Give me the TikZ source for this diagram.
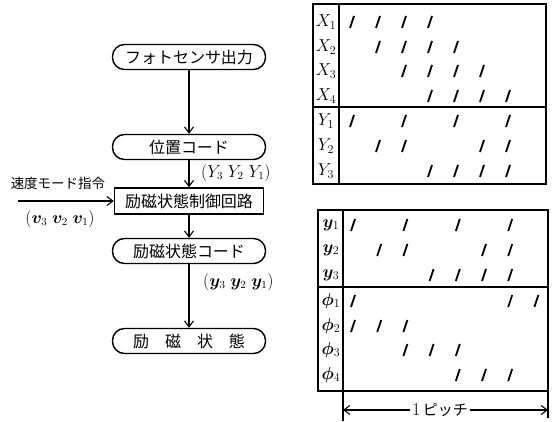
\documentclass[tikz,border=0pt]{standalone}
\usepackage{fontspec}
\usepackage{bm}
\newfontfamily\jp{Noto Sans CJK JP}
\usetikzlibrary{arrows.meta}
\begin{document}
\begin{tikzpicture}[x=1pt,y=-1pt,
  term/.style={draw,line width=1.4pt,rounded corners=12pt,minimum width=153pt,minimum height=25pt,inner sep=0pt,font=\jp\fontsize{16}{18}\selectfont},
  proc/.style={draw,line width=1.4pt,minimum width=149pt,minimum height=26pt,inner sep=0pt,font=\jp\fontsize{16}{18}\selectfont},
  flow/.style={line width=1.1pt,-{Straight Barb[length=6pt,width=9pt]}},
  lbl/.style={font=\fontsize{16}{18}\selectfont,inner sep=0pt},
  jlbl/.style={font=\jp\fontsize{13.5}{15}\selectfont,inner sep=0pt},
  rowlbl/.style={font=\fontsize{17}{19}\selectfont,inner sep=0pt},
  frame/.style={line width=1.4pt},
  sl/.style={line width=1.8pt}
]
\useasboundingbox (0,0) rectangle (558,422);
% flowchart
\node[term] (a) at (189,57) {フォトセンサ出力};
\node[term] (b) at (189,147) {位置コード};
\node[proc] (c) at (189,201) {励磁状態制御回路};
\node[term] (d) at (189,251) {励磁状態コード};
\node[term] (e) at (189,341) {励\quad 磁\quad 状\quad 態};
\draw[flow] (a) -- (b);
\draw[flow] (b) -- (c);
\draw[flow] (c) -- (d);
\draw[flow] (d) -- (e);
\node[lbl,anchor=west] (Ylab) at (201,173) {$(Y_3\;Y_2\;Y_1)$};
\node[lbl,anchor=west] (ylab) at (203,282) {$(\bm{y}_3\;\bm{y}_2\;\bm{y}_1)$};
\node[jlbl] (spd) at (58,183) {速度モード指令};
\coordinate (in) at (18,201);
\draw[flow] (in) -- (c.west);
\node[lbl] (vlab) at (60,219) {$(\bm{v}_3\;\bm{v}_2\;\bm{v}_1)$};
% top table
\draw[frame] (313,4) rectangle (546,184);
\draw[frame] (339,4) -- (339,184);
\draw[frame] (313,107) -- (546,107);
\foreach \n/\y in {1/22,2/47,3/71,4/96}
  \node[rowlbl] (X\n) at (326,\y) {$X_{\n}$};
\foreach \n/\y in {1/121,2/146,3/171}
  \node[rowlbl] (Y\n) at (326,\y) {$Y_{\n}$};
\foreach \y/\cols in {22/{1,2,3,4},47/{2,3,4,5},71/{3,4,5,6},96/{4,5,6,7},121/{1,3,5,7},146/{2,3,6,7},171/{4,5,6,7}}
  \foreach \c in \cols
    \draw[sl] ({352+(\c-1)*26-2},\y+6) -- ({352+(\c-1)*26+2},\y-6);
% bottom table
\draw[frame] (318,210) rectangle (548,391);
\draw[frame] (343,210) -- (343,391);
\draw[frame] (318,287) -- (548,287);
\foreach \n/\y in {1/225,2/250,3/275}
  \node[rowlbl] (yy\n) at (331,\y) {$\bm{y}_{\n}$};
\foreach \n/\y in {1/301,2/326,3/350,4/375}
  \node[rowlbl] (ph\n) at (331,\y) {$\bm{\phi}_{\n}$};
\foreach \y/\cols in {225/{1,3,5,7},250/{2,3,6,7},275/{4,5,6,7},301/{1,7,8},326/{1,2,3},350/{3,4,5},375/{5,6,7}}
  \foreach \c in \cols
    \draw[sl] ({353+(\c-1)*26.2-2},\y+6) -- ({353+(\c-1)*26.2+2},\y-6);
% pitch
\coordinate (pl) at (343,410);
\coordinate (pr) at (548,410);
\draw[line width=1.1pt] (343,391) -- (343,421);
\draw[line width=1.1pt] (548,391) -- (548,418);
\node[font=\fontsize{15}{17}\selectfont,inner sep=2pt] (p) at (440,410) {{\fontsize{18}{18}\selectfont 1}\,{\jp ピッチ}};
\draw[flow] (p.west) -- (pl);
\draw[flow] (p.east) -- (pr);
\end{tikzpicture}
\end{document}
